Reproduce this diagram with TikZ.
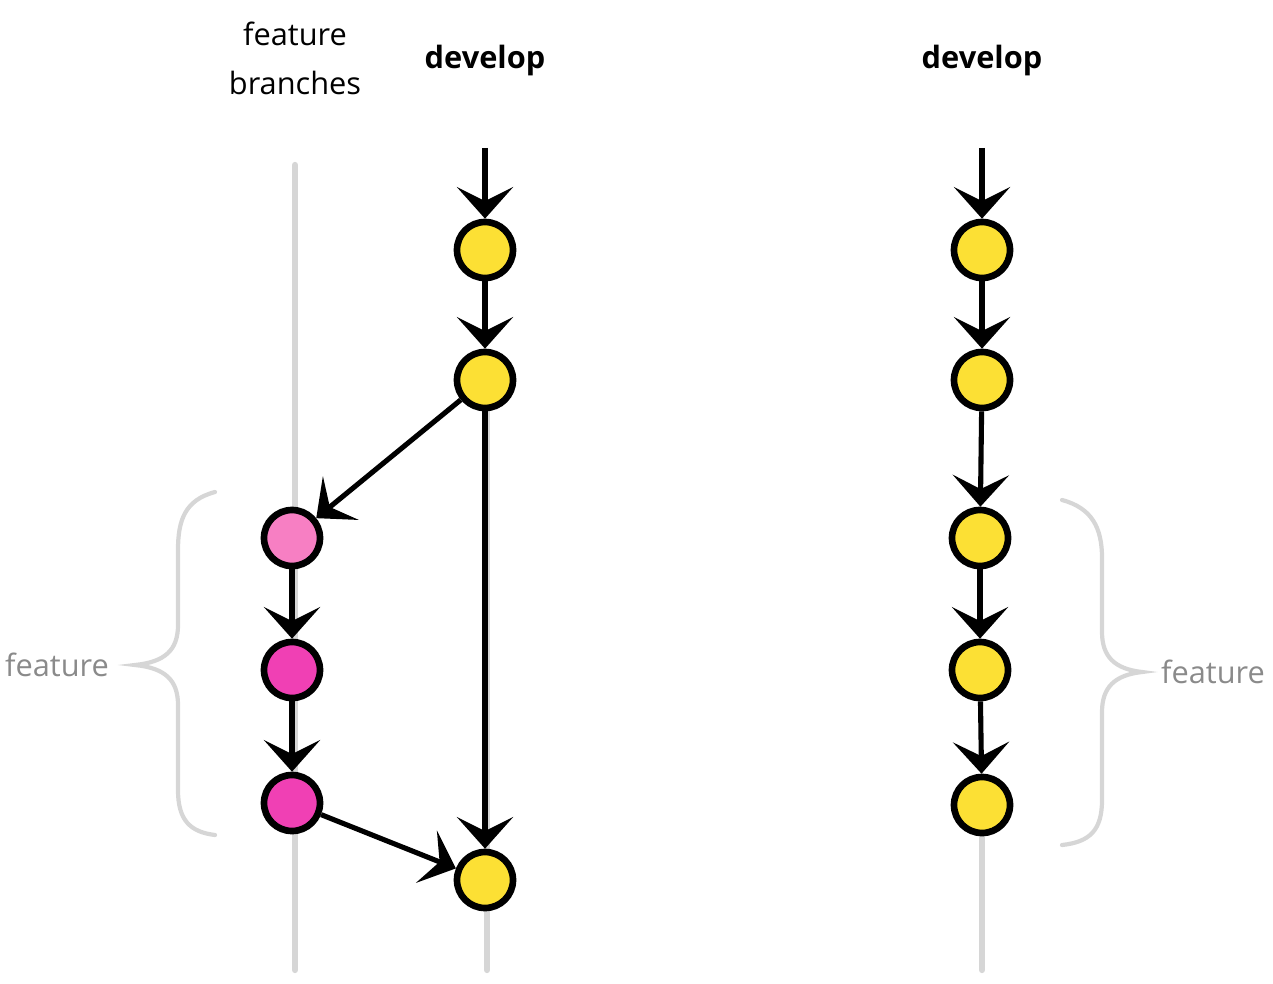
\documentclass[tikz,border=0pt]{standalone}
\usepackage{fontspec}
\setmainfont{Open Sans}
\usetikzlibrary{arrows.meta}
\definecolor{commitYellow}{HTML}{FCE034}
\definecolor{featureLight}{HTML}{F77FC3}
\definecolor{featurePink}{HTML}{F040B4}
\definecolor{braceGray}{HTML}{D6D6D6}
\definecolor{labelGray}{HTML}{8A8A8A}
\tikzset{
	x=0.02cm, y=-0.02cm,
	commit/.style={circle, draw=black, line width=3.8pt, minimum size=1.12cm, inner sep=0pt, fill=commitYellow},
	fcommit/.style={commit, fill=featurePink},
	flow/.style={line width=2.9pt, -{Stealth[length=18pt,width=32pt,inset=8pt]}},
	lane/.style={line width=3.6pt, braceGray, line cap=round},
	curly/.style={line width=2.4pt, braceGray, line cap=round},
	title/.style={font=\fontsize{17.5}{28}\selectfont, align=center},
	side/.style={title, text=labelGray}
}
\begin{document}
\begin{tikzpicture}
	\useasboundingbox (0,0) rectangle (1273,983);
	\coordinate (laneTop) at (295,165);
	\coordinate (laneEnd) at (295,970);
	\coordinate (devLane) at (487,410);
	\coordinate (devEnd) at (487,970);
	\coordinate (rightLane) at (982,835);
	\coordinate (rightEnd) at (982,970);
	\draw[lane] (laneTop) -- (laneEnd);
	\draw[lane] (devLane) -- (devEnd);
	\draw[lane] (rightLane) -- (rightEnd);

	\node[title] (branchesLabel) at (295,58) {feature\\branches};
	\node[title, font=\fontsize{17.5}{28}\selectfont\bfseries] (developLabel) at (485,61) {develop};
	\node[title, font=\fontsize{17.5}{28}\selectfont\bfseries] (developRight) at (982,61) {develop};

	\coordinate (devTop) at (485,148);
	\node[commit] (dev1) at (485,250) {};
	\node[commit] (dev2) at (485,380) {};
	\node[commit] (dev3) at (485,880) {};
	\node[fcommit, fill=featureLight] (feat1) at (292,538) {};
	\node[fcommit] (feat2) at (292,670) {};
	\node[fcommit] (feat3) at (292,803) {};

	\draw[flow] (devTop) -- (dev1);
	\draw[flow] (dev1) -- (dev2);
	\draw[flow] (dev2) -- (dev3);
	\draw[flow] (dev2) -- (feat1);
	\draw[flow] (feat1) -- (feat2);
	\draw[flow] (feat2) -- (feat3);
	\draw[flow] (feat3) -- (dev3);

	\coordinate (rightTop) at (982,148);
	\node[commit] (right1) at (982,250) {};
	\node[commit] (right2) at (982,380) {};
	\node[commit] (right3) at (980,538) {};
	\node[commit] (right4) at (980,670) {};
	\node[commit] (right5) at (982,805) {};
	\draw[flow] (rightTop) -- (right1);
	\draw[flow] (right1) -- (right2);
	\draw[flow] (right2) -- (right3);
	\draw[flow] (right3) -- (right4);
	\draw[flow] (right4) -- (right5);

	\draw[curly] (215,492) .. controls (185,500) and (178,520) .. (178,550) -- (178,625) .. controls (178,650) and (165,662) .. (135,665) .. controls (165,668) and (178,680) .. (178,705) -- (178,790) .. controls (178,820) and (190,832) .. (215,835);
	\draw[curly] (1062,500) .. controls (1092,508) and (1102,528) .. (1102,558) -- (1102,632) .. controls (1102,657) and (1115,669) .. (1142,672) .. controls (1115,675) and (1102,687) .. (1102,712) -- (1102,800) .. controls (1102,830) and (1090,842) .. (1062,845);
	\node[side] (featureLeft) at (57,665) {feature};
	\node[side] (featureRight) at (1213,672) {feature};
\end{tikzpicture}
\end{document}
